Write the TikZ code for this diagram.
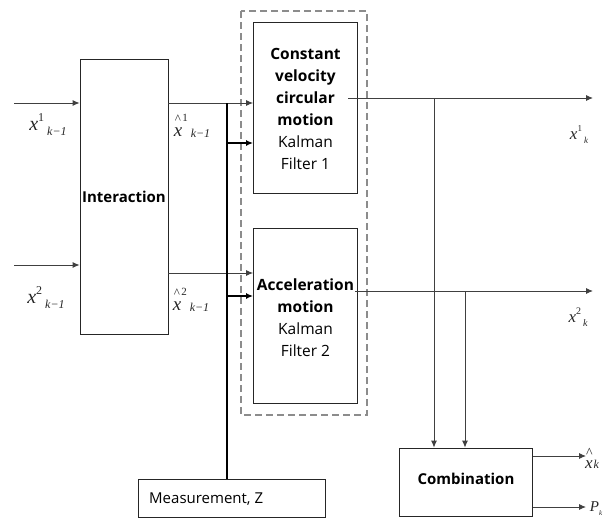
\documentclass[tikz,border=0pt]{standalone}
\usepackage{fontspec}
\setmainfont{Open Sans}
\newfontfamily\tnr{Liberation Serif}
\newcommand\fs[1]{\fontsize{#1}{#1}\selectfont}
\usetikzlibrary{arrows.meta}
\begin{document}
\begin{tikzpicture}[x=1pt,y=-1pt,
  box/.style={draw=black!85,line width=0.8pt,inner sep=0pt},
  conn/.style={draw=black!75,line width=0.9pt,-{Latex[length=7pt,width=6pt]}},
  thick conn/.style={draw=black,line width=1.8pt,-{Latex[length=7pt,width=6pt]}},
  lbl/.style={inner sep=0pt,text=black!85},
  ttl/.style={font=\fontsize{15.5}{22}\selectfont,align=center,inner sep=0pt}]
\useasboundingbox (0,0) rectangle (614,522);
% dashed group
\draw[draw=black!45,line width=1.6pt,dash pattern=on 7pt off 4pt] (241,11) rectangle (367,415);
% boxes
\node[box,minimum width=88pt,minimum height=275pt] (inter) at (124,196.5) {};
\node[ttl,font=\fontsize{15}{22}\selectfont\bfseries] (intert) at (124,197) {Interaction};
\node[box,minimum width=104pt,minimum height=171pt] (kf1) at (305.5,107.5) {};
\node[ttl] (kf1t) at (305.5,109) {\textbf{Constant}\\\textbf{velocity}\\\textbf{circular}\\\textbf{motion}\\Kalman\\Filter 1};
\node[box,minimum width=104pt,minimum height=175pt] (kf2) at (305.5,315.5) {};
\node[ttl] (kf2t) at (305.5,318) {\textbf{Acceleration}\\\textbf{motion}\\Kalman\\Filter 2};
\node[box,minimum width=133pt,minimum height=68pt] (comb) at (466,482) {};
\node[ttl,font=\fontsize{15}{22}\selectfont\bfseries] (combt) at (466,479) {Combination};
\node[box,minimum width=187pt,minimum height=38pt] (meas) at (231.5,498) {};
\node[ttl,font=\fontsize{15}{22}\selectfont,anchor=west] (meast) at (149,499) {Measurement, Z};
% coordinates
\coordinate (in1) at (14,103);
\coordinate (in2) at (14,265);
\coordinate (o1) at (593,98);
\coordinate (o2) at (593,291);
\coordinate (s1) at (348,98);
\coordinate (s2) at (355,291);
\coordinate (mtop) at (227,103);
\coordinate (d1) at (434,98);
\coordinate (d2) at (465,291);
% inputs
\draw[conn] (in1) -- (in1 -| inter.west);
\draw[conn] (in2) -- (in2 -| inter.west);
\node[lbl] (l1) at (48,125) {{\tnr\itshape\fs{20}x}\raisebox{9pt}{\tnr\fs{12}1}\hspace{3pt}\raisebox{-5pt}{\tnr\itshape\fs{12}k−1}};
\node[lbl] (l2) at (46,298) {{\tnr\itshape\fs{20}x}\raisebox{9pt}{\tnr\fs{12}2}\hspace{3pt}\raisebox{-5pt}{\tnr\itshape\fs{12}k−1}};
% interaction outputs
\draw[conn] (inter.east |- mtop) -- (kf1.west |- mtop);
\draw[conn] (inter.east |- 0,273) -- (kf2.west |- 0,273);
\node[lbl] (h1) at (192,126) {\rlap{\hspace{1pt}\raisebox{13pt}{\tnr\fs{13}\textasciicircum}}{\tnr\itshape\fs{19}x}\raisebox{15pt}{\tnr\fs{11}1}\hspace{3pt}\raisebox{-1pt}{\tnr\itshape\fs{12}k−1}};
\node[lbl] (h2) at (191,300) {\rlap{\hspace{1pt}\raisebox{13pt}{\tnr\fs{13}\textasciicircum}}{\tnr\itshape\fs{19}x}\raisebox{15pt}{\tnr\fs{11}2}\hspace{3pt}\raisebox{-1pt}{\tnr\itshape\fs{12}k−1}};
% measurement
\draw[draw=black,line width=1.8pt] (meas.north -| mtop) -- (mtop);
\draw[thick conn] (mtop |- 0,143) -- (kf1.west |- 0,143);
\draw[thick conn] (mtop |- 0,296) -- (kf2.west |- 0,296);
% filter outputs
\draw[conn] (s1) -- (o1);
\draw[conn] (s2) -- (o2);
\node[lbl] (y1) at (579,135) {{\tnr\itshape\fs{17}x}\raisebox{8pt}{\tnr\fs{9}1}\hspace{2pt}\raisebox{-4pt}{\tnr\itshape\fs{9}k}};
\node[lbl] (y2) at (578,317) {{\tnr\itshape\fs{17}x}\raisebox{8pt}{\tnr\fs{10}2}\hspace{2pt}\raisebox{-4pt}{\tnr\itshape\fs{10}k}};
% to combination
\draw[conn] (d1) -- (d1 |- comb.north);
\draw[conn] (d2) -- (d2 |- comb.north);
% combination outputs
\draw[conn] (comb.east |- 0,456) -- (586,456);
\draw[conn] (comb.east |- 0,507) -- (586,507);
\node[lbl] (xk) at (592,458) {\rlap{\hspace{1pt}\raisebox{11pt}{\tnr\fs{14}\textasciicircum}}{\tnr\itshape\fs{17}x}\hspace{1pt}{\tnr\itshape\fs{12}k}};
\node[lbl] (pk) at (596,509) {{\tnr\itshape\fs{15}P}\raisebox{-4pt}{\tnr\itshape\fs{7}k}};
\end{tikzpicture}
\end{document}
